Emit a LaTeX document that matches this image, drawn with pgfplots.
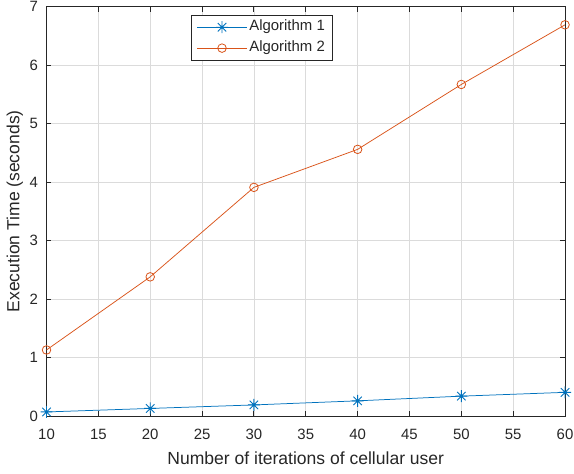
\documentclass[border=0pt]{standalone}
\usepackage{pgfplots}
\pgfplotsset{compat=1.18}
\usepackage{fontspec}
\setmainfont{Liberation Sans}
\definecolor{mblue}{RGB}{0,114,189}
\definecolor{morange}{RGB}{217,83,25}
\definecolor{mtext}{RGB}{38,38,38}
\pgfdeclareplotmark{mstar}{%
  \pgfpathmoveto{\pgfqpoint{0pt}{\pgfplotmarksize}}\pgfpathlineto{\pgfqpoint{0pt}{-\pgfplotmarksize}}%
  \pgfpathmoveto{\pgfqpoint{\pgfplotmarksize}{0pt}}\pgfpathlineto{\pgfqpoint{-\pgfplotmarksize}{0pt}}%
  \pgfpathmoveto{\pgfqpoint{0.7071\pgfplotmarksize}{0.7071\pgfplotmarksize}}\pgfpathlineto{\pgfqpoint{-0.7071\pgfplotmarksize}{-0.7071\pgfplotmarksize}}%
  \pgfpathmoveto{\pgfqpoint{0.7071\pgfplotmarksize}{-0.7071\pgfplotmarksize}}\pgfpathlineto{\pgfqpoint{-0.7071\pgfplotmarksize}{0.7071\pgfplotmarksize}}%
  \pgfusepathqstroke}
\begin{document}
\begin{tikzpicture}
\begin{axis}[
  scale only axis,
  width=520.6pt, height=411pt,
  xmin=10, xmax=60, ymin=0, ymax=7,
  xtick={10,15,...,60}, ytick={0,1,...,7},
  grid=major,
  grid style={line width=0.7pt, draw=black!14},
  axis line style={line width=0.9pt, draw=mtext},
  major tick length=5pt,
  tick style={line width=0.9pt, draw=mtext},
  tick align=inside,
  /pgf/number format/assume math mode=true,
  ticklabel style={font=\fontsize{15}{17}\selectfont, text=mtext, inner sep=0pt},
  xticklabel style={anchor=north, yshift=-13.3pt},
  yticklabel style={anchor=east, xshift=-8.4pt},
  xlabel={Number of iterations of cellular user},
  ylabel={Execution Time (seconds)},
  xlabel style={font=\fontsize{17.6}{20}\selectfont, text=mtext, inner sep=0pt,
    at={([yshift=-35.3pt]axis description cs:0.5,0)}, anchor=north},
  ylabel style={font=\fontsize{17.6}{20}\selectfont, text=mtext, inner sep=0pt,
    at={([xshift=-23.4pt]axis description cs:0,0.5)}, anchor=south},
  legend style={at={(0.2785,0.98)}, anchor=north west, draw=mtext, line width=0.7pt,
    font=\fontsize{15}{17}\selectfont, text=mtext,
    inner xsep=5.5pt, inner ysep=2.8pt, row sep=2.5pt,
    nodes={inner sep=2pt, text height=11pt, text depth=3.5pt}},
  legend cell align=left,
  legend image code/.code={%
    \draw[mark repeat=2,mark phase=2] plot coordinates {(0pt,0pt) (25pt,0pt) (50pt,0pt)};},
  clip=false,
]
\coordinate (ll) at (rel axis cs:0,0);
\coordinate (ur) at (rel axis cs:1,1);
\addplot[color=mblue, line width=0.75pt, mark=mstar, mark size=6pt, mark options={line width=0.9pt}]
  coordinates {(10,0.07) (20,0.13) (30,0.19) (40,0.26) (50,0.34) (60,0.405)};
\addlegendentry{Algorithm 1}
\addplot[color=morange, line width=0.75pt, mark=o, mark size=4.3pt, mark options={line width=0.8pt}]
  coordinates {(10,1.13) (20,2.38) (30,3.91) (40,4.56) (50,5.67) (60,6.69)};
\addlegendentry{Algorithm 2}
\end{axis}
\pgfresetboundingbox
\path[use as bounding box] ([shift={(-46.7pt,-57.3pt)}]ll) rectangle ([shift={(9pt,6.7pt)}]ur);
\end{tikzpicture}
\end{document}
